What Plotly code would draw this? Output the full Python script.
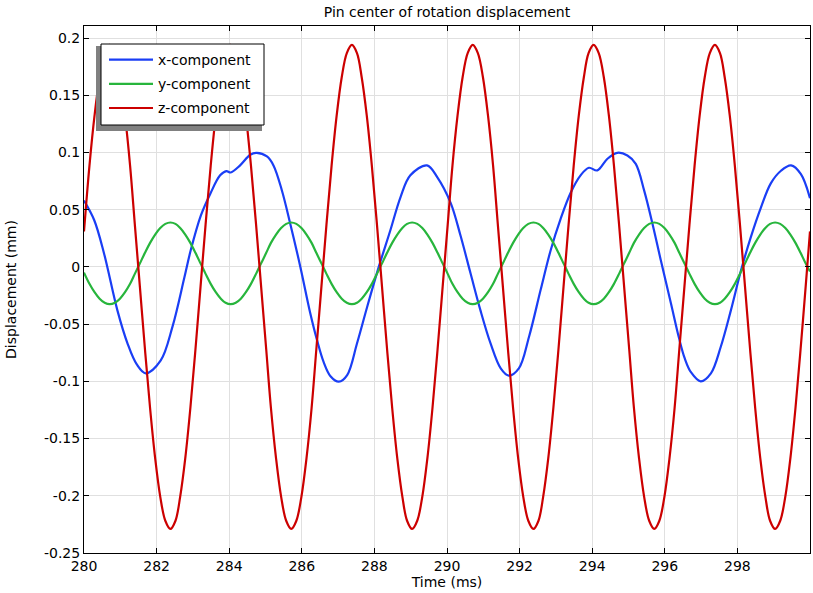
import plotly.graph_objects as go

# ---------------- data ----------------
x_time = [280.00, 280.28, 280.55, 280.92, 281.20, 281.45, 281.70, 282.11, 282.44, 282.76,
          282.94, 283.22, 283.48, 283.75, 283.92, 284.04, 284.30, 284.58, 284.76, 285.04,
          285.22, 285.45, 285.68, 285.96, 286.23, 286.42, 286.60, 286.79, 287.02, 287.25,
          287.52, 287.80, 288.12, 288.44, 288.72, 288.99, 289.45, 289.73, 290.10, 290.37,
          290.65, 290.92, 291.20, 291.48, 291.70, 291.98, 292.26, 292.58, 292.86, 293.13,
          293.41, 293.68, 293.91, 294.14, 294.42, 294.69, 294.97, 295.20, 295.43, 295.66,
          295.89, 296.17, 296.39, 296.55, 296.72, 296.99, 297.27, 297.54, 297.82, 298.10,
          298.37, 298.65, 298.92, 299.20, 299.48, 299.75, 300.00]
x_comp = [0.058, 0.041, 0.012, -0.038, -0.067, -0.085, -0.093, -0.082, -0.052, -0.010,
          0.0145, 0.045, 0.064, 0.080, 0.0837, 0.0825, 0.0887, 0.098, 0.0997, 0.0965,
          0.0887, 0.067, 0.038, 0.000, -0.040, -0.064, -0.083, -0.0955, -0.1003, -0.0945,
          -0.0669, -0.035, 0.000, 0.032, 0.061, 0.080, 0.0887, 0.0785, 0.056, 0.0276,
          -0.0058, -0.0378, -0.0669, -0.0887, -0.095, -0.0887, -0.061, -0.020, 0.0150, 0.042,
          0.065, 0.080, 0.0866, 0.0843, 0.0945, 0.0997, 0.0974, 0.090, 0.0669, 0.0378,
          0.0058, -0.032, -0.062, -0.080, -0.092, -0.100, -0.093, -0.070, -0.038, -0.003,
          0.026, 0.052, 0.073, 0.084, 0.0887, 0.081, 0.060]

yz_time = [280.00, 280.15, 280.29, 280.43, 280.57,
           280.71, 280.85, 280.99, 281.13, 281.27, 281.40, 281.54, 281.68, 281.82, 281.96, 282.10, 282.24,
           282.38, 282.52, 282.65, 282.79, 282.93, 283.07, 283.21, 283.35, 283.49, 283.63, 283.77, 283.90,
           284.04, 284.18, 284.32, 284.46, 284.60, 284.74, 284.88, 285.02, 285.15, 285.29, 285.43, 285.57,
           285.71, 285.85, 285.99, 286.13, 286.27, 286.40, 286.54, 286.68, 286.82, 286.96, 287.10, 287.24,
           287.38, 287.52, 287.65, 287.79, 287.93, 288.07, 288.21, 288.35, 288.49, 288.63, 288.77, 288.90,
           289.04, 289.18, 289.32, 289.46, 289.60, 289.74, 289.88, 290.02, 290.15, 290.29, 290.43, 290.57,
           290.71, 290.85, 290.99, 291.13, 291.27, 291.40, 291.54, 291.68, 291.82, 291.96, 292.10, 292.24,
           292.38, 292.52, 292.65, 292.79, 292.93, 293.07, 293.21, 293.35, 293.49, 293.63, 293.77, 293.90,
           294.04, 294.18, 294.32, 294.46, 294.60, 294.74, 294.88, 295.02, 295.15, 295.29, 295.43, 295.57,
           295.71, 295.85, 295.99, 296.13, 296.27, 296.40, 296.54, 296.68, 296.82, 296.96, 297.10, 297.24,
           297.38, 297.52, 297.65, 297.79, 297.93, 298.07, 298.21, 298.35, 298.49, 298.63, 298.77, 298.90,
           299.04, 299.18, 299.32, 299.46, 299.60, 299.74, 299.88, 300.00]
y_comp = [-0.0050, -0.0148, -0.0221, -0.0278, -0.0314,
          -0.0326, -0.0314, -0.0278, -0.0221, -0.0148, -0.0061, 0.0031, 0.0123, 0.0210, 0.0283, 0.0340, 0.0376,
          0.0388, 0.0376, 0.0340, 0.0283, 0.0210, 0.0123, 0.0031, -0.0061, -0.0148, -0.0221, -0.0278, -0.0314,
          -0.0326, -0.0314, -0.0278, -0.0221, -0.0148, -0.0061, 0.0031, 0.0123, 0.0210, 0.0283, 0.0340, 0.0376,
          0.0388, 0.0376, 0.0340, 0.0283, 0.0210, 0.0123, 0.0031, -0.0061, -0.0148, -0.0221, -0.0278, -0.0314,
          -0.0326, -0.0314, -0.0278, -0.0221, -0.0148, -0.0061, 0.0031, 0.0123, 0.0210, 0.0283, 0.0340, 0.0376,
          0.0388, 0.0376, 0.0340, 0.0283, 0.0210, 0.0123, 0.0031, -0.0061, -0.0148, -0.0221, -0.0278, -0.0314,
          -0.0326, -0.0314, -0.0278, -0.0221, -0.0148, -0.0061, 0.0031, 0.0123, 0.0210, 0.0283, 0.0340, 0.0376,
          0.0388, 0.0376, 0.0340, 0.0283, 0.0210, 0.0123, 0.0031, -0.0061, -0.0148, -0.0221, -0.0278, -0.0314,
          -0.0326, -0.0314, -0.0278, -0.0221, -0.0148, -0.0061, 0.0031, 0.0123, 0.0210, 0.0283, 0.0340, 0.0376,
          0.0388, 0.0376, 0.0340, 0.0283, 0.0210, 0.0123, 0.0031, -0.0061, -0.0148, -0.0221, -0.0278, -0.0314,
          -0.0326, -0.0314, -0.0278, -0.0221, -0.0148, -0.0061, 0.0031, 0.0123, 0.0210, 0.0283, 0.0340, 0.0376,
          0.0388, 0.0376, 0.0340, 0.0283, 0.0210, 0.0123, 0.0031, -0.0040]
z_comp = [0.031, 0.0883, 0.1321, 0.1657, 0.1868,
          0.194, 0.1868, 0.1657, 0.1321, 0.0883, 0.0372, -0.0175, -0.0722, -0.1233, -0.1671, -0.2007, -0.2218,
          -0.229, -0.2218, -0.2007, -0.1671, -0.1233, -0.0722, -0.0175, 0.0372, 0.0883, 0.1321, 0.1657, 0.1868,
          0.194, 0.1868, 0.1657, 0.1321, 0.0883, 0.0372, -0.0175, -0.0722, -0.1233, -0.1671, -0.2007, -0.2218,
          -0.229, -0.2218, -0.2007, -0.1671, -0.1233, -0.0722, -0.0175, 0.0372, 0.0883, 0.1321, 0.1657, 0.1868,
          0.194, 0.1868, 0.1657, 0.1321, 0.0883, 0.0372, -0.0175, -0.0722, -0.1233, -0.1671, -0.2007, -0.2218,
          -0.229, -0.2218, -0.2007, -0.1671, -0.1233, -0.0722, -0.0175, 0.0372, 0.0883, 0.1321, 0.1657, 0.1868,
          0.194, 0.1868, 0.1657, 0.1321, 0.0883, 0.0372, -0.0175, -0.0722, -0.1233, -0.1671, -0.2007, -0.2218,
          -0.229, -0.2218, -0.2007, -0.1671, -0.1233, -0.0722, -0.0175, 0.0372, 0.0883, 0.1321, 0.1657, 0.1868,
          0.194, 0.1868, 0.1657, 0.1321, 0.0883, 0.0372, -0.0175, -0.0722, -0.1233, -0.1671, -0.2007, -0.2218,
          -0.229, -0.2218, -0.2007, -0.1671, -0.1233, -0.0722, -0.0175, 0.0372, 0.0883, 0.1321, 0.1657, 0.1868,
          0.194, 0.1868, 0.1657, 0.1321, 0.0883, 0.0372, -0.0175, -0.0722, -0.1233, -0.1671, -0.2007, -0.2218,
          -0.229, -0.2218, -0.2007, -0.1671, -0.1233, -0.0722, -0.0175, 0.031]

series_names = ["x-component", "y-component", "z-component"]
series_colors = ["#1a3ef5", "#27b53c", "#cc0000"]

x_tickvals = [280, 282, 284, 286, 288, 290, 292, 294, 296, 298]
x_ticktext = ["280", "282", "284", "286", "288", "290", "292", "294", "296", "298"]
y_tickvals = [-0.25, -0.2, -0.15, -0.1, -0.05, 0, 0.05, 0.1, 0.15, 0.2]
y_ticktext = ["-0.25", "-0.2", "-0.15", "-0.1", "-0.05", "0", "0.05", "0.1", "0.15", "0.2"]

# ---------------- figure ----------------
FONT = "DejaVu Sans, Verdana, sans-serif"
FS = 14
fig = go.Figure()
for name, xs, ys, col in zip(series_names,
                             [x_time, yz_time, yz_time],
                             [x_comp, y_comp, z_comp],
                             series_colors):
    fig.add_trace(go.Scatter(x=xs, y=ys, mode="lines", name=name, legendgroup=name,
                             line=dict(color=col, width=2.2, shape="spline", smoothing=1.0)))

L, R, T, B = 84, 3, 26, 40
W, H = 813, 593
pw, ph = W - L - R, H - T - B

def px_to_paper(px, py):
    return (px - L) / pw, (H - B - py) / ph

# legend frame + shadow (pixel boxes converted to paper coordinates)
sx0, sy0 = px_to_paper(96, 131)
sx1, sy1 = px_to_paper(262, 46)
bx0, by0 = px_to_paper(101, 125)
bx1, by1 = px_to_paper(264, 44)
lx, ly = px_to_paper(104, 44)

axis_common = dict(showline=True, linecolor="black", linewidth=1, mirror="allticks",
                   ticks="inside", ticklen=5, tickcolor="black", tickwidth=1,
                   showgrid=True, gridcolor="#e0e0e0", gridwidth=1, zeroline=False,
                   automargin=False,
                   tickfont=dict(family=FONT, size=FS, color="black"))

fig.update_layout(
    width=W, height=H,
    margin=dict(l=L, r=R, t=T, b=B, pad=0),
    paper_bgcolor="white", plot_bgcolor="white",
    font=dict(family=FONT, size=FS, color="black"),
    title=dict(text="Pin center of rotation displacement", x=(L + pw / 2) / W, xanchor="center",
               y=1 - 12 / H, yanchor="middle", font=dict(family=FONT, size=FS, color="black")),
    xaxis=dict(range=[280, 300], tickvals=x_tickvals, ticktext=x_ticktext,
               title=dict(text="Time (ms)", standoff=2, font=dict(family=FONT, size=FS)),
               **axis_common),
    yaxis=dict(range=[-0.25, 0.2105], tickvals=y_tickvals, ticktext=y_ticktext,
               title=dict(text="Displacement (mm)", standoff=24, font=dict(family=FONT, size=FS)),
               **axis_common),
    legend=dict(x=lx, y=ly, xanchor="left", yanchor="top", bgcolor="rgba(0,0,0,0)",
                borderwidth=0, tracegroupgap=3, itemwidth=44,
                font=dict(family=FONT, size=FS, color="black")),
    shapes=[
        dict(type="rect", xref="paper", yref="paper", x0=sx0, x1=sx1, y0=sy0, y1=sy1,
             fillcolor="#808080", line=dict(width=0), layer="above"),
        dict(type="rect", xref="paper", yref="paper", x0=bx0, x1=bx1, y0=by0, y1=by1,
             fillcolor="white", line=dict(color="black", width=1), layer="above"),
    ],
)

fig.write_html("out.html", config={"displayModeBar": False},
               post_script="document.body.style.margin='0';")
